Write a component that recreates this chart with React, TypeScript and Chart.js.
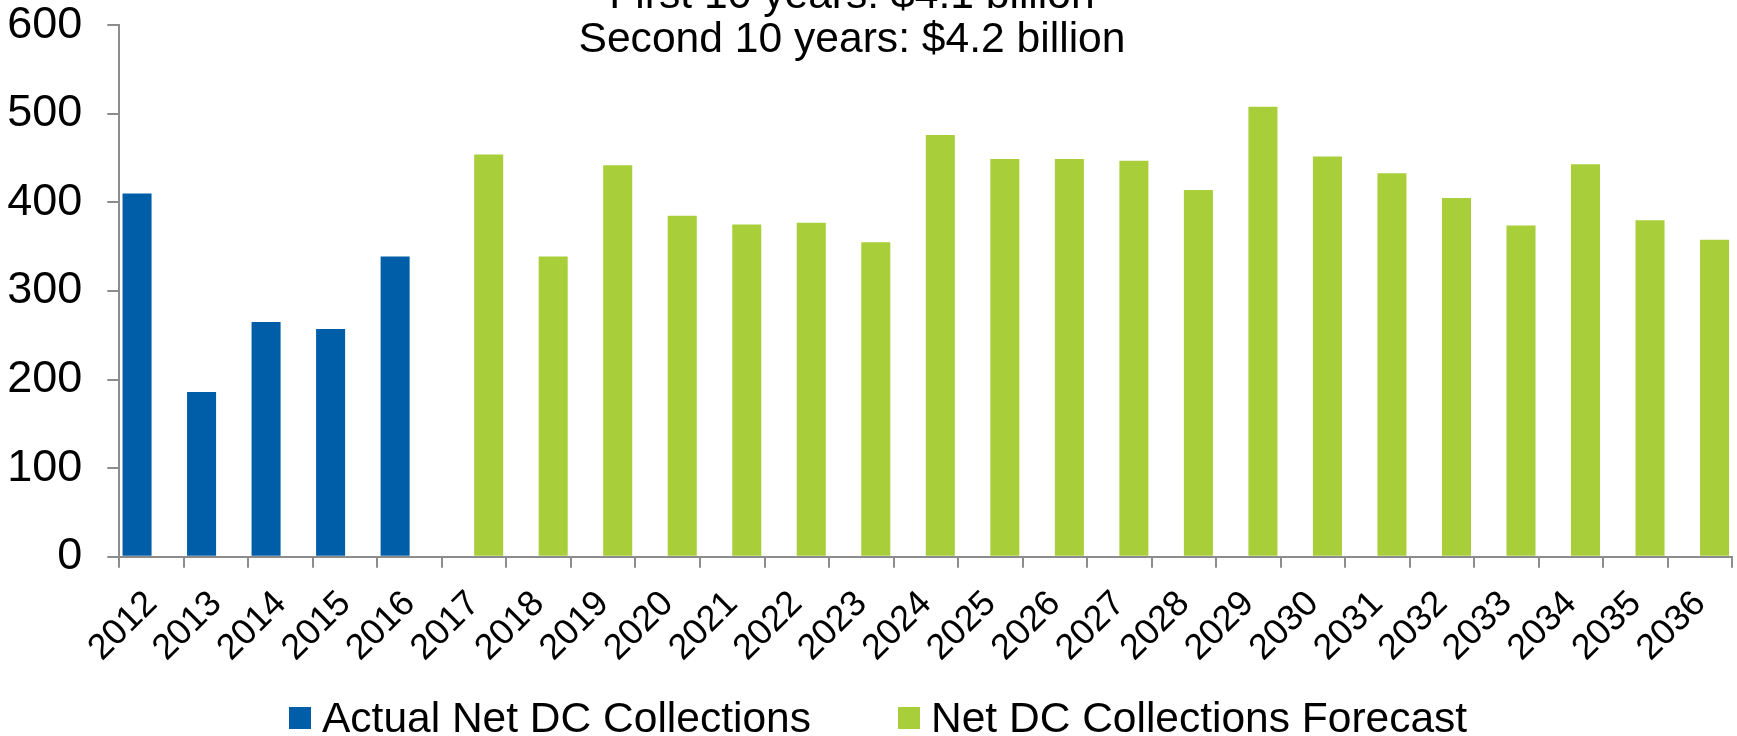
import React, { useEffect, useRef } from 'react';
import { Chart, registerables } from 'chart.js';

Chart.register(...registerables);

const years = [
  '2012', '2013', '2014', '2015', '2016', '2017', '2018', '2019', '2020', '2021',
  '2022', '2023', '2024', '2025', '2026', '2027', '2028', '2029', '2030', '2031',
  '2032', '2033', '2034', '2035', '2036',
];

const actualCollections = [
  410, 186, 265, 257, 339, null, null, null, null, null,
  null, null, null, null, null, null, null, null, null, null,
  null, null, null, null, null,
];

const forecastCollections = [
  null, null, null, null, null, 454, 339, 442, 385, 375,
  377, 355, 476, 449, 449, 447, 414, 508, 452, 433,
  405, 374, 443, 380, 358,
];

const yTickValues = [0, 100, 200, 300, 400, 500, 600];

const titleLines = ['First 10 years: $4.1 billion', 'Second 10 years: $4.2 billion'];

const seriesLabels = ['Actual Net DC Collections', 'Net DC Collections Forecast'];
const seriesColors = ['#005EA8', '#A8CF3A'];

const FONT = '"Liberation Sans", Arial, Helvetica, sans-serif';
const AXIS_GREY = '#8c8c8c';

const titlePlugin = {
  id: 'overlayTitle',
  afterDraw(chart: any) {
    const ctx = chart.ctx;
    ctx.save();
    ctx.font = `42.6px ${FONT}`;
    ctx.fillStyle = '#000000';
    ctx.textAlign = 'center';
    ctx.textBaseline = 'alphabetic';
    const baselines = [8, 52];
    titleLines.forEach((line, i) => {
      ctx.fillText(line, 852, baselines[i]);
    });
    ctx.restore();
  },
};

const legendPlugin = {
  id: 'bottomLegend',
  afterDraw(chart: any) {
    const ctx = chart.ctx;
    ctx.save();
    ctx.font = `42.5px ${FONT}`;
    ctx.textAlign = 'left';
    ctx.textBaseline = 'alphabetic';
    const starts = [289, 898];
    chart.data.datasets.forEach((ds: any, i: number) => {
      const x = starts[i];
      ctx.fillStyle = ds.backgroundColor;
      ctx.fillRect(x, 707, 22, 22);
      ctx.fillStyle = '#000000';
      ctx.fillText(ds.label, x + 33, 731.5);
    });
    ctx.restore();
  },
};

export default function App() {
  const canvasRef = useRef<HTMLCanvasElement | null>(null);

  useEffect(() => {
    document.body.style.margin = '0';
    document.body.style.overflow = 'hidden';
    const canvas = canvasRef.current;
    if (!canvas) return;

    const chart = new Chart(canvas, {
      type: 'bar',
      data: {
        labels: years,
        datasets: [
          {
            label: seriesLabels[0],
            data: actualCollections,
            backgroundColor: seriesColors[0],
            borderWidth: 0,
          },
          {
            label: seriesLabels[1],
            data: forecastCollections,
            backgroundColor: seriesColors[1],
            borderWidth: 0,
          },
        ],
      },
      options: {
        responsive: false,
        animation: false,
        devicePixelRatio: 1,
        datasets: {
          bar: {
            categoryPercentage: 0.9,
            barPercentage: 1.0,
          },
        },
        layout: {
          padding: { top: 25.3, right: 4.7, bottom: 0, left: 0 },
        },
        plugins: {
          legend: { display: false },
          title: { display: false },
          tooltip: { enabled: false },
        },
        scales: {
          x: {
            type: 'category',
            offset: true,
            grid: {
              display: true,
              offset: true,
              drawOnChartArea: false,
              drawTicks: true,
              tickLength: 11,
              color: AXIS_GREY,
              lineWidth: 2,
            },
            border: { display: true, color: AXIS_GREY, width: 2 },
            ticks: {
              minRotation: 45,
              maxRotation: 45,
              autoSkip: false,
              padding: 15,
              color: '#000000',
              font: { family: FONT, size: 36 },
            },
            afterFit(scale: any) {
              scale.height = 736 - 556.7;
              scale.paddingLeft = 0;
              scale.paddingRight = 0;
              scale.paddingTop = 0;
              scale.paddingBottom = 0;
            },
          },
          y: {
            type: 'linear',
            min: 0,
            max: 600,
            grid: {
              display: true,
              drawOnChartArea: false,
              drawTicks: true,
              tickLength: 12,
              color: AXIS_GREY,
              lineWidth: 2,
            },
            border: { display: true, color: AXIS_GREY, width: 2 },
            ticks: {
              padding: 25,
              color: '#000000',
              font: { family: FONT, size: 45 },
            },
            afterBuildTicks(scale: any) {
              scale.ticks = yTickValues.map((v) => ({ value: v }));
            },
            afterFit(scale: any) {
              scale.width = 119.3;
              scale.paddingLeft = 0;
              scale.paddingRight = 0;
              scale.paddingTop = 0;
              scale.paddingBottom = 0;
            },
          },
        },
      },
      plugins: [titlePlugin, legendPlugin],
    } as any);

    return () => {
      chart.destroy();
    };
  }, []);

  return (
    <div style={{ width: 1737, height: 736, position: 'relative' }}>
      <canvas ref={canvasRef} width={1737} height={736} style={{ display: 'block' }} />
    </div>
  );
}
